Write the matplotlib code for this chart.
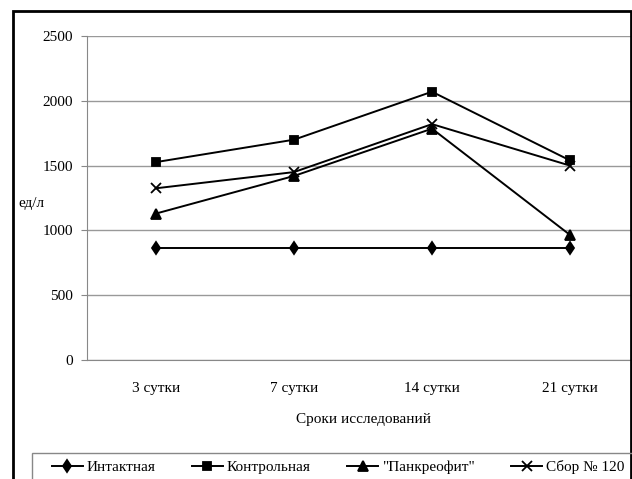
import matplotlib.pyplot as plt
from matplotlib.patches import Rectangle

plt.rcParams['font.family'] = ['Liberation Serif', 'DejaVu Serif']

categories = ['3 сутки', '7 сутки', '14 сутки', '21 сутки']
intact = [868, 868, 868, 868]
control = [1527, 1700, 2070, 1540]
pankreofit = [1130, 1420, 1785, 965]
sbor = [1325, 1450, 1820, 1500]

series = [
    ('Интактная', intact, 'd', 6.5),
    ('Контрольная', control, 's', 6),
    ('"Панкреофит"', pankreofit, '^', 7),
    ('Сбор № 120', sbor, 'x', 7),
]

W, H = 632, 479
fig = plt.figure(figsize=(W / 100, H / 100), dpi=100)
ax = fig.add_axes([87 / W, 1 - 360 / H, 552 / W, 324 / H])

x = range(len(categories))
handles = []
for name, vals, m, ms in series:
    h, = ax.plot(x, vals, color='black', lw=1.4, marker=m, ms=ms,
                 mew=1.3, label=name)
    handles.append(h)

ax.set_ylim(0, 2500)
ax.set_yticks([0, 500, 1000, 1500, 2000, 2500])
ax.set_xlim(-0.5, 3.5)
ax.set_xticks(list(x))
ax.set_xticklabels(categories)
ax.tick_params(axis='x', length=0, pad=15.5, labelsize=11)
ax.tick_params(axis='y', length=4, color='#888888', pad=6, labelsize=11)
ax.yaxis.grid(True, color='#999999', lw=1)
ax.set_axisbelow(True)
for s in ['top', 'right']:
    ax.spines[s].set_visible(False)
for s in ['left', 'bottom']:
    ax.spines[s].set_color('#888888')
ax.set_xlabel('Сроки исследований', fontsize=11, labelpad=13)
fig.text(31.5 / W, 1 - 203 / H, 'ед/л', fontsize=11, ha='center', va='center')

# outer frame and legend box
fig.patches.append(Rectangle((13 / W, -0.05), 618 / W, 1.05 - 11 / H,
                             transform=fig.transFigure, fill=False,
                             ec='black', lw=2, clip_on=False))
fig.patches.append(Rectangle((32 / W, -0.05), 0.99, 0.05 + 26 / H,
                             transform=fig.transFigure, fill=False,
                             ec='#888888', lw=1, clip_on=False))
fig.legend(handles=handles, loc='center left', ncol=4, frameon=False,
           bbox_to_anchor=(52 / W, 1 - 467 / H), fontsize=11,
           borderpad=0, borderaxespad=0,
           handlelength=2.0, handletextpad=0.26, columnspacing=2.4)

fig.savefig('out.png', dpi=100)
